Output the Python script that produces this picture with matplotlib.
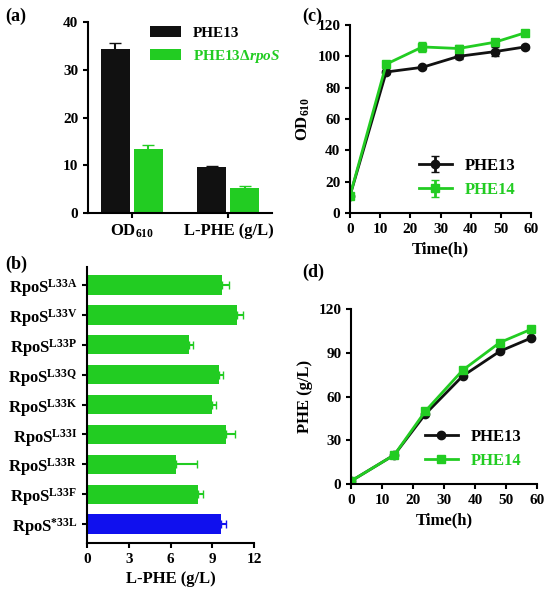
import numpy as np
import matplotlib
matplotlib.use('Agg')
import matplotlib.pyplot as plt

plt.rcParams.update({'font.family': 'Liberation Serif', 'font.weight': 'bold',
                     'axes.labelweight': 'bold', 'font.size': 11,
                     'axes.linewidth': 1.5, 'xtick.major.width': 1.5,
                     'ytick.major.width': 1.5,
                     'mathtext.fontset': 'custom',
                     'mathtext.rm': 'Liberation Serif:bold',
                     'mathtext.bf': 'Liberation Serif:bold',
                     'mathtext.it': 'Liberation Serif:italic:bold',
                     'mathtext.default': 'rm'})

GREEN = '#22cc22'
BLACK = '#111111'
BLUE = '#1010ee'

# (a)
a_groups = ['OD$_{610}$', 'L-PHE (g/L)']
a_phe13 = [34.3, 9.6]
a_phe13_err = [1.2, 0.2]
a_drpos = [13.3, 5.3]
a_drpos_err = [1.0, 0.3]

# (b)
b_labels = ['RpoS$^{L33A}$', 'RpoS$^{L33V}$', 'RpoS$^{L33P}$',
            'RpoS$^{L33Q}$', 'RpoS$^{L33K}$', 'RpoS$^{L33I}$',
            'RpoS$^{L33R}$', 'RpoS$^{L33F}$', 'RpoS$^{*33L}$']
b_vals = [9.7, 10.8, 7.3, 9.5, 9.0, 10.0, 6.4, 8.0, 9.6]
b_err = [0.5, 0.4, 0.3, 0.3, 0.3, 0.6, 1.5, 0.3, 0.4]

# (c), (d)
time_c = [0, 12, 24, 36, 48, 58]
c_phe13 = [11, 90, 93, 100, 103, 106]
c_phe13_err = [0, 1, 1, 1.5, 3, 1]
c_phe14 = [11, 95, 106, 105, 109, 115]
c_phe14_err = [0, 1, 3, 2, 2, 1]
time_d = [0, 14, 24, 36, 48, 58]
d_phe13 = [2, 20, 48, 74, 91, 100]
d_phe14 = [2, 20, 50, 78, 97, 106]

fig = plt.figure(figsize=(5.49, 5.96), dpi=100)
W, H = 549, 596
def ax_px(x0, y0, x1, y1):
    return fig.add_axes([x0 / W, 1 - y1 / H, (x1 - x0) / W, (y1 - y0) / H])

def clean(ax):
    ax.spines['top'].set_visible(False)
    ax.spines['right'].set_visible(False)

# panel a
ax = ax_px(88, 22, 272, 213)
x = np.arange(2)
w = 0.3
ax.bar(x - w / 2 - 0.02, a_phe13, w, yerr=a_phe13_err, color=BLACK, capsize=4,
       error_kw={'ecolor': BLACK, 'elinewidth': 1.5}, label='PHE13')
ax.bar(x + w / 2 + 0.02, a_drpos, w, yerr=a_drpos_err, color=GREEN, capsize=4,
       error_kw={'ecolor': GREEN, 'elinewidth': 1.5}, label='PHE13Δ$\\it{rpoS}$')
ax.set_xticks(x)
ax.set_xticklabels(a_groups, fontsize=12)
ax.set_ylim(0, 40)
ax.set_yticks([0, 10, 20, 30, 40])
ax.set_xlim(-0.45, 1.45)
clean(ax)
leg = ax.legend(frameon=False, loc='upper right', bbox_to_anchor=(1.12, 1.05), fontsize=11)
leg.get_texts()[1].set_color(GREEN)

# panel b
ax = ax_px(87, 267, 254, 543)
y = np.arange(len(b_vals))
colors = [GREEN] * (len(b_vals) - 1) + [BLUE]
for yi, v, e, c in zip(y, b_vals, b_err, colors):
    ax.barh(yi, v, 0.65, xerr=[[0], [e]], color=c, capsize=3,
            error_kw={'ecolor': c, 'elinewidth': 1.5})
ax.set_yticks(y)
ax.set_yticklabels(b_labels, fontsize=12)
ax.set_xlim(0, 12)
ax.set_xticks([0, 3, 6, 9, 12])
ax.set_ylim(len(b_vals) - 0.37, -0.6)
ax.set_xlabel('L-PHE (g/L)', fontsize=12)
clean(ax)

# panel c
ax = ax_px(350, 25, 531, 213)
ax.errorbar(time_c, c_phe13, yerr=c_phe13_err, color=BLACK, marker='o', ms=6,
            lw=2, capsize=3, label='PHE13')
ax.errorbar(time_c, c_phe14, yerr=c_phe14_err, color=GREEN, marker='s', ms=6,
            lw=2, capsize=3, label='PHE14')
ax.set_xlim(0, 60)
ax.set_ylim(0, 120)
ax.set_xticks(range(0, 61, 10))
ax.set_yticks(range(0, 121, 20))
ax.set_xlabel('Time(h)', fontsize=12)
ax.set_ylabel('OD$_{610}$', fontsize=12)
clean(ax)
leg = ax.legend(frameon=False, loc='lower right', fontsize=12)
leg.get_texts()[1].set_color(GREEN)

# panel d
ax = ax_px(351, 309, 537, 484)
ax.plot(time_d, d_phe13, color=BLACK, marker='o', ms=6, lw=2, label='PHE13')
ax.plot(time_d, d_phe14, color=GREEN, marker='s', ms=6, lw=2, label='PHE14')
ax.set_xlim(0, 60)
ax.set_ylim(0, 120)
ax.set_xticks(range(0, 61, 10))
ax.set_yticks(range(0, 121, 30))
ax.set_xlabel('Time(h)', fontsize=12)
ax.set_ylabel('PHE (g/L)', fontsize=12)
clean(ax)
leg = ax.legend(frameon=False, loc='lower right', fontsize=12)
leg.get_texts()[1].set_color(GREEN)

for lab, px, py in [('(a)', 5, 16), ('(b)', 5, 264), ('(c)', 302, 16), ('(d)', 302, 272)]:
    fig.text(px / W, 1 - py / H, lab, fontsize=13, fontweight='bold', va='center')

fig.savefig('out.png', dpi=100)
